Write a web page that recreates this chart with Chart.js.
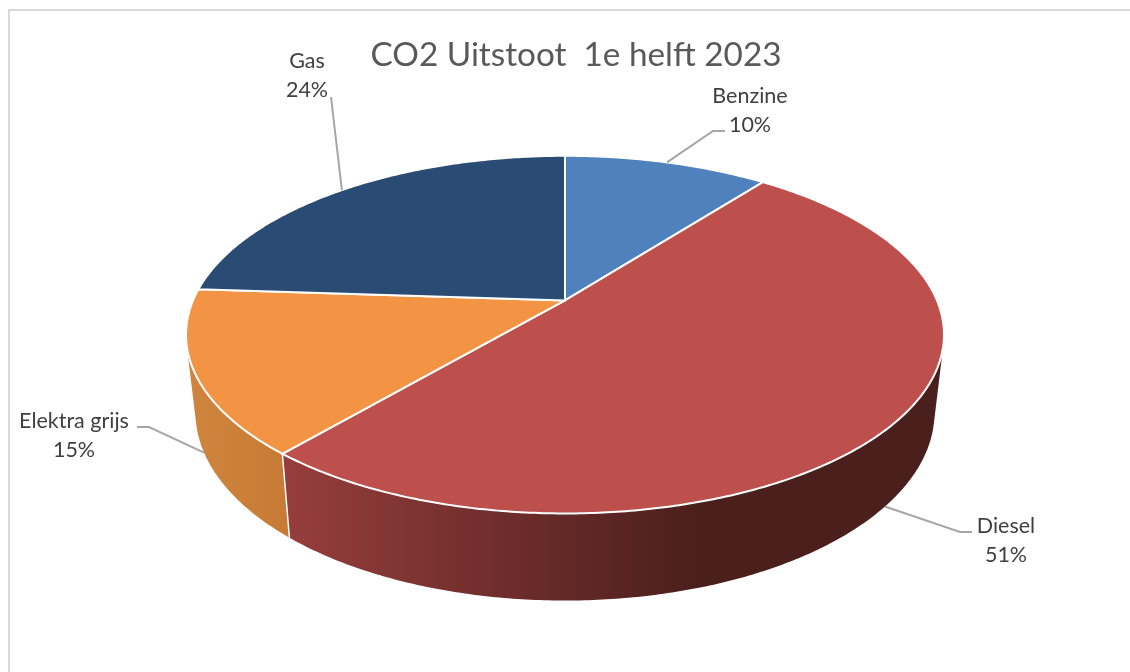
<!DOCTYPE html>
<html lang="nl">
<head>
<meta charset="utf-8">
<title>CO2 Uitstoot</title>
<script src="https://cdn.jsdelivr.net/npm/chart.js@4/dist/chart.umd.js"></script>
<style>
html,body{margin:0;padding:0;background:#fff;overflow:hidden}
#wrap{position:absolute;left:0;top:0;width:1130px;height:672px}
#frame{position:absolute;left:8px;top:9px;width:1200px;height:800px;border:2px solid #d9d9d9;box-sizing:border-box;pointer-events:none}
canvas{position:absolute;left:0;top:0}
</style>
</head>
<body>
<div id="wrap"><canvas id="c" width="1130" height="672"></canvas><div id="frame"></div></div>
<script>
const titleText = 'CO2 Uitstoot  1e helft 2023';
const categories = ['Benzine', 'Diesel', 'Elektra grijs', 'Gas'];
const shares = [10.49, 50.76, 14.8, 23.95];
const topColors = ['#4f81bd', '#bd4f4c', '#f39445', '#2a4b74'];
const wallColors = [['#3f6797', '#3f6797'], ['#953d3c', '#4a1f1c'], ['#cf843d', '#c67a35'], ['#223c5d', '#223c5d']];

// Perspective camera for the tilted disc
const view = { shiftX: -11, A: 372 / 200, B: 172.3 / 200, k: 0.191, lowX: 0.975, lowY: 1.052, drop: 76 };
// Wall shading span per slice, relative to the pie centre
const wallSpan = [[-300, 300], [-275, 135], [-365, -275], [-300, 300]];
// Label layout: text centre and leader elbow/end, relative to the canvas
const labelLayout = [
  { x: 750, y: 96, wall: false, path: [[713, 131], [725, 131]] },
  { x: 1006, y: 526, wall: true, path: [[960, 532], [972, 532]] },
  { x: 74, y: 421, wall: true, path: [[149, 427], [137, 427]] },
  { x: 307, y: 61, wall: false, path: [[331, 97]] }
];

function project(arc, angle, low) {
  const th = angle + Math.PI / 2, r = arc.outerRadius;
  const w = 1 + view.k * Math.cos(th);
  const dx = view.A * r * Math.sin(th) / w, dy = -view.B * r * Math.cos(th) / w;
  const cx = arc.x + view.shiftX, cy = arc.y;
  return low ? [cx + view.lowX * dx, cy + view.drop + view.lowY * dy] : [cx + dx, cy + dy];
}
function sweep(arc, from, to, low) {
  const n = Math.max(2, Math.ceil(Math.abs(to - from) / 0.01)), out = [];
  for (let i = 0; i <= n; i++) out.push(project(arc, from + (to - from) * i / n, low));
  return out;
}

// Each slice's top face is drawn in perspective from the element's own angles
Chart.ArcElement.prototype.draw = function (ctx) {
  const pts = sweep(this, this.startAngle, this.endAngle, false);
  ctx.save();
  ctx.beginPath();
  ctx.moveTo(this.x + view.shiftX, this.y);
  pts.forEach(p => ctx.lineTo(p[0], p[1]));
  ctx.closePath();
  ctx.fillStyle = this.options.backgroundColor;
  ctx.fill();
  ctx.lineJoin = 'round';
  ctx.lineWidth = 2;
  ctx.strokeStyle = '#ffffff';
  ctx.stroke();
  ctx.restore();
};

const pie3d = {
  id: 'pie3d',
  beforeDatasetsDraw(chart) {
    const ctx = chart.ctx, arcs = chart.getDatasetMeta(0).data;
    arcs.forEach((arc, i) => {
      const up = sweep(arc, arc.startAngle, arc.endAngle, false);
      const dn = sweep(arc, arc.startAngle, arc.endAngle, true);
      const cx = arc.x + view.shiftX;
      const g = ctx.createLinearGradient(cx + wallSpan[i][0], 0, cx + wallSpan[i][1], 0);
      g.addColorStop(0, wallColors[i][0]);
      g.addColorStop(1, wallColors[i][1]);
      ctx.save();
      ctx.fillStyle = g;
      // one path of consistently wound strips: no seams, silhouette follows the rim
      ctx.beginPath();
      for (let s = 0; s < up.length - 1; s++) {
        const q = [up[s], up[s + 1], dn[s + 1], dn[s]];
        let area = 0;
        for (let j = 0; j < 4; j++) {
          const a = q[j], b = q[(j + 1) % 4];
          area += a[0] * b[1] - b[0] * a[1];
        }
        if (area < 0) q.reverse();
        ctx.moveTo(q[0][0], q[0][1]);
        ctx.lineTo(q[1][0], q[1][1]);
        ctx.lineTo(q[2][0], q[2][1]);
        ctx.lineTo(q[3][0], q[3][1]);
        ctx.closePath();
      }
      ctx.fill('nonzero');
      ctx.restore();
    });
    arcs.forEach(arc => {
      const a = project(arc, arc.startAngle, false), b = project(arc, arc.startAngle, true);
      ctx.save();
      ctx.strokeStyle = '#ffffff';
      ctx.lineWidth = 1.5;
      ctx.beginPath();
      ctx.moveTo(a[0], a[1]);
      ctx.lineTo(b[0], b[1]);
      ctx.stroke();
      ctx.restore();
    });
  },
  afterDatasetsDraw(chart) {
    const ctx = chart.ctx, arcs = chart.getDatasetMeta(0).data;
    const total = shares.reduce((a, b) => a + b, 0);
    arcs.forEach((arc, i) => {
      const L = labelLayout[i];
      const mid = (arc.startAngle + arc.endAngle) / 2;
      const p = project(arc, mid, L.wall);
      ctx.save();
      ctx.strokeStyle = '#a6a6a6';
      ctx.lineWidth = 2;
      ctx.beginPath();
      ctx.moveTo(p[0], p[1]);
      L.path.forEach(q => ctx.lineTo(q[0], q[1]));
      ctx.stroke();
      ctx.fillStyle = '#404040';
      ctx.font = '21.5px Lato';
      ctx.textAlign = 'center';
      ctx.textBaseline = 'middle';
      ctx.fillText(categories[i], L.x, L.y);
      ctx.fillText(Math.round(shares[i] / total * 100) + '%', L.x, L.y + 29);
      ctx.restore();
    });
  }
};

new Chart(document.getElementById('c'), {
  type: 'pie',
  data: {
    labels: categories,
    datasets: [{ data: shares, backgroundColor: topColors, borderColor: '#ffffff', borderWidth: 1, radius: 200 }]
  },
  options: {
    responsive: false,
    animation: false,
    layout: { padding: { left: 22, right: 0, top: 8, bottom: 146 } },
    plugins: {
      legend: { display: false },
      tooltip: { enabled: false },
      title: {
        display: true,
        text: titleText,
        color: '#595959',
        font: { family: 'Lato', size: 33.3, weight: 'normal', lineHeight: 1.2 },
        padding: { top: 27, bottom: 0 }
      }
    }
  },
  plugins: [pie3d]
});
</script>
</body>
</html>
